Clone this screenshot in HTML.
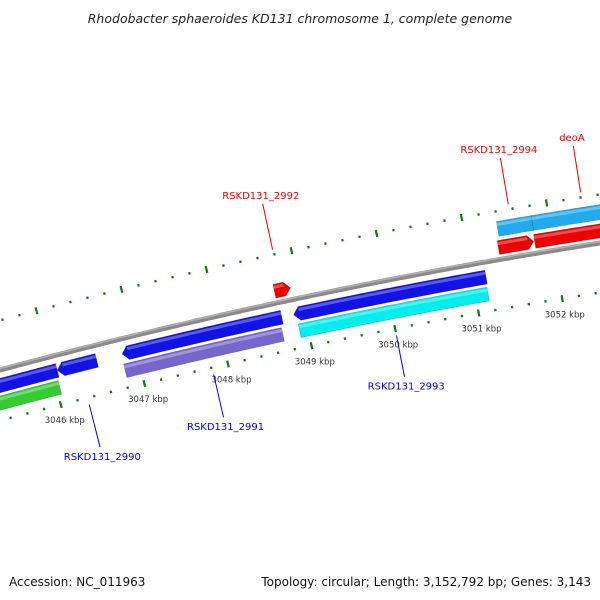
<!DOCTYPE html>
<html><head><meta charset="utf-8">
<style>
html,body{margin:0;padding:0;background:#fff;}
svg{display:block;font-family:"DejaVu Sans","Liberation Sans",sans-serif;}
</style></head>
<body>
<svg id="map" width="600" height="600" viewBox="0 0 600 600" xmlns="http://www.w3.org/2000/svg">
<text x="300" y="23" text-anchor="middle" font-size="12.5" font-style="italic" fill="#222">Rhodobacter sphaeroides KD131 chromosome 1, complete genome</text>
<text x="9" y="586" font-size="12" fill="#111">Accession: NC_011963</text>
<text x="591" y="586" text-anchor="end" font-size="12" fill="#111">Topology: circular; Length: 3,152,792 bp; Genes: 3,143</text>
<g id="layer"></g>
</svg>
<script>
// ---- data (kbp) ----
const majorTicks = [3045, 3046, 3047, 3048, 3049, 3050, 3051, 3052, 3053];
const tickLabels = ["3045 kbp","3046 kbp","3047 kbp","3048 kbp","3049 kbp","3050 kbp","3051 kbp","3052 kbp","3053 kbp"];
const featStart = [3045.15, 3046.06, 3046.83, 3048.87, 3045.1, 3046.82, 3048.90, 3048.71, 3051.36, 3051.79, 3051.39, 3051.80];
const featEnd   = [3046.06, 3046.53, 3048.73, 3051.16, 3046.04, 3048.70, 3051.15, 3048.90, 3051.78, 3053.0, 3051.80, 3053.0];
const featRing  = [1, 1, 1, 1, 2, 2, 2, -1, -1, -1, -2, -2];
const featArrow = ["none","left","left","left","none","none","none","right","right","none","none","none"];
const featColor = ["#1212e6","#1212e6","#1212e6","#1212e6","#33cc33","#7766cc","#00eeee","#ee0000","#ee0000","#ee0000","#22aaee","#22aaee"];
const geneNames = ["RSKD131_2990","RSKD131_2991","RSKD131_2993","RSKD131_2992","RSKD131_2994","deoA"];
const genePos   = [3046.32, 3047.81, 3050.0, 3048.79, 3051.56, 3052.41];
const geneSide  = [1, 1, 1, -1, -1, -1];
const geneColor = ["#0000ee","#0000ee","#0000ee","#ee0000","#ee0000","#ee0000"];
const geneLen   = [44, 44, 42, 47, 47, 47];

// ---- geometry ----
const A = 9.44e-5, B = -0.2683, C = 370;
function bx(k){ return 48.5 + (k - 3046) * 84.3; }
function pt(k, d){
  const x = bx(k), y = C + B*x + A*x*x, s = B + 2*A*x, n = Math.sqrt(1+s*s);
  return [x + d*(-s)/n, y + d*(1)/n];
}
const NS = "http://www.w3.org/2000/svg";
const layer = document.getElementById('layer');
function mk(tag, attrs){ const e = document.createElementNS(NS, tag); for (const a in attrs) e.setAttribute(a, attrs[a]); layer.appendChild(e); return e; }

// backbone
let bb = [];
for (let k = 3045.3; k <= 3053.2; k += 0.05) bb.push(pt(k, 0).map(v=>v.toFixed(1)).join(','));
const back = mk('polyline', {points: bb.join(' '), fill:'none', stroke:'#8a8a8a', 'stroke-width':5});


let bb2 = [];
for (let k = 3045.3; k <= 3053.2; k += 0.05) bb2.push(pt(k, -1.3).map(v=>v.toFixed(1)).join(','));
const backHi = mk('polyline', {points: bb2.join(' '), fill:'none', stroke:'#b0b0b0', 'stroke-width':1.5});



// ticks
const rings = [-48, 49];
rings.forEach((rd, ri) => {
  for (let m = 0; m < majorTicks.length - 1; m++) {
    for (let j = 0; j < 5; j++) {
      const k = majorTicks[m] + j * 0.2;
      if (bx(k) < -20 || bx(k) > 620) continue;
      const len = j === 0 ? 3.5 : 1.2;
      const p1 = pt(k, rd - len), p2 = pt(k, rd + len);
      const t = mk('line', {x1:p1[0], y1:p1[1], x2:p2[0], y2:p2[1], stroke:'#117711', 'stroke-width':2.2});
      
      
    }
    if (ri === 1) {
      const p = pt(majorTicks[m], 65);
      if (p[0] > 10 && p[0] < 595) {
        const lb = mk('text', {x:p[0], y:p[1]+3, 'text-anchor':'middle', 'font-size':8.5, fill:'#333'});
        lb.textContent = tickLabels[m];
        
        
      }
    }
  }
});

// features
for (let i = 0; i < featStart.length; i++) {
  const r = featRing[i];
  let d1, d2;
  if (r === 1) { d1 = 8; d2 = 22; } else if (r === 2) { d1 = 25; d2 = 39; }
  else if (r === -1) { d1 = -19; d2 = -5; } else { d1 = -38; d2 = -23; }
  const a = featArrow[i], ah = 0.07;
  let s = featStart[i], e = featEnd[i];
  let ss = a === 'left' ? s + ah : s, ee = a === 'right' ? e - ah : e;
  const top = [], bot = [];
  for (let k = ss; k <= ee + 1e-9; k += (ee - ss) / 30) { top.push(pt(k, d1)); bot.push(pt(k, d2)); }
  let pts = top.slice();
  if (a === 'right') pts.push(pt(e, (d1 + d2) / 2));
  pts = pts.concat(bot.reverse());
  if (a === 'left') pts.push(pt(s, (d1 + d2) / 2));
  const poly = mk('polygon', {points: pts.map(p=>p[0].toFixed(1)+','+p[1].toFixed(1)).join(' '), fill: featColor[i], stroke:'rgba(0,0,0,0.25)', 'stroke-width':0.6});
  
  
  const hl = [];
  for (let k = ss; k <= ee + 1e-9; k += (ee - ss) / 30) hl.push(pt(k, d1 + 3));
  const h = mk('polyline', {points: hl.map(p=>p[0].toFixed(1)+','+p[1].toFixed(1)).join(' '), fill:'none', stroke:'rgba(255,255,255,0.3)', 'stroke-width':3});
  
  
}

// gene labels
for (let i = 0; i < geneNames.length; i++) {
  const sd = geneSide[i];
  const dStart = sd > 0 ? 56 : -53, dEnd = dStart + sd * geneLen[i];
  const p1 = pt(genePos[i], dStart), p2 = pt(genePos[i], dEnd);
  const ln = mk('line', {x1:p1[0], y1:p1[1], x2:p2[0], y2:p2[1], stroke:geneColor[i], 'stroke-width':1});
  
  
  const p3 = pt(genePos[i], dEnd + sd * 9);
  const tx = mk('text', {x:p3[0], y:p3[1]+4, 'text-anchor':'middle', 'font-size':10, fill:geneColor[i]});
  tx.textContent = geneNames[i];
  
  
}
</script>
</body></html>
